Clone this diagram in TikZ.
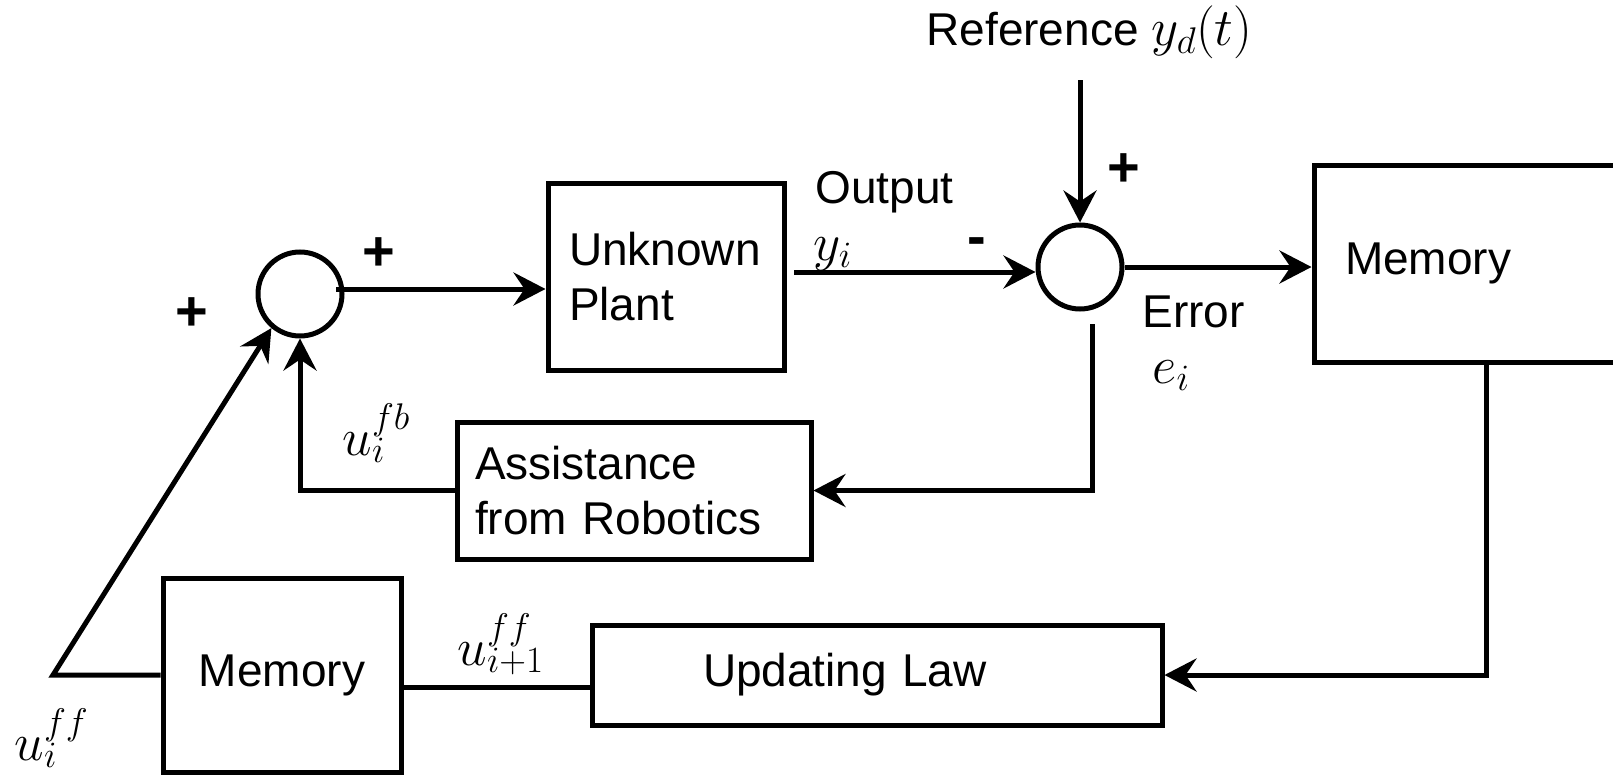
\RequirePackage{fix-cm}
\documentclass[tikz,border=0pt]{standalone}
\usepackage{fontspec}
\setmainfont{Liberation Sans}
\usetikzlibrary{arrows.meta}

\newcommand{\mathsz}{\fontsize{53pt}{55pt}\selectfont}

\begin{document}
\begin{tikzpicture}[x=1pt,y=-1pt,
  line width=5pt,
  every node/.style={font=\fontsize{46pt}{55pt}\selectfont, inner sep=0pt},
  blk/.style={draw, rectangle, line width=5pt},
  sumnode/.style={draw, circle, minimum size=84pt, line width=5pt},
  sig/.style={-{Stealth[length=32pt,width=33pt,inset=11pt]}},
  txt/.style={anchor=base west},
  mtxt/.style={anchor=base west, font=\mathsz},
  sign/.style={font=\fontsize{56pt}{60pt}\selectfont\bfseries}]

  \useasboundingbox (0,0) rectangle (1613,776);
  \clip (0,0) rectangle (1613,776);

  % summing junctions
  \node[sumnode] (s1) at (300,294) {};
  \node[sumnode] (s2) at (1080,267) {};

  % blocks
  \node[blk, minimum height=187pt, text width=194pt, inner xsep=21pt, align=left]
    (plant) at (666,276.5) {Unknown\\Plant};
  \node[blk, minimum height=137pt, text width=318pt, inner xsep=18pt, align=left]
    (assist) at (634,490.5) {Assistance\\from Robotics};
  \node[blk, minimum height=197pt, text width=338pt, inner xsep=31pt, align=left]
    (mem2) at (1514,263.5) {Memory};
  \node[blk, minimum width=238pt, minimum height=194pt]
    (mem1) at (282,675) {Memory};
  \node[blk, minimum height=100pt, text width=348pt, inner xsep=111pt, align=left]
    (upd) at (877,675) {Updating Law};

  % signal labels
  \node[txt] (tref) at (924,46) {Reference {\mathsz$y_d(t)$}};
  \node[txt] (tout) at (813,203) {Output};
  \node[mtxt] (tyi) at (811,260) {$y_i$};
  \node[txt] (terr) at (1140,327) {Error};
  \node[mtxt] (tei) at (1150,383) {$e_i$};
  \node[mtxt] (tufb) at (340,455) {$u_i^{fb}$};
  \node[mtxt] (tuffn) at (455,665) {$u_{i+1}^{ff}$};
  \node[mtxt] (tuff) at (12,760) {$u_i^{ff}$};

  % signs at the junctions
  \node[sign] (pa) at (379,254) {+};
  \node[sign] (pb) at (192,314) {+};
  \node[sign] (pc) at (1124,170) {+};
  \node[sign] (mn) at (977,247) {-};

  % connectors
  \coordinate (s1o) at (336,289);
  \draw[sig] (s1o) -- (s1o -| plant.west);
  \coordinate (po) at (794,272);
  \draw[sig] (po) -- (po -| s2.west);
  \coordinate (rin) at (1080,80);
  \draw[sig] (rin) -- (s2.north);
  \draw[sig] (s2.east) -- (s2.east -| mem2.west);
  \coordinate (etap) at (1092,324);
  \draw[sig] (etap) |- (assist.east);
  \draw[sig] (assist.west) -| (s1.south);
  \coordinate (mtap) at ([xshift=175pt]mem2.south west);
  \draw[sig] (mtap) |- (upd.east);
  \draw ([yshift=-12pt]mem1.east) -- ([yshift=-12pt]upd.west);
  \coordinate (uff) at (53,675);
  \draw[sig] (mem1.west) -- (uff) -- (s1.230);
\end{tikzpicture}
\end{document}
